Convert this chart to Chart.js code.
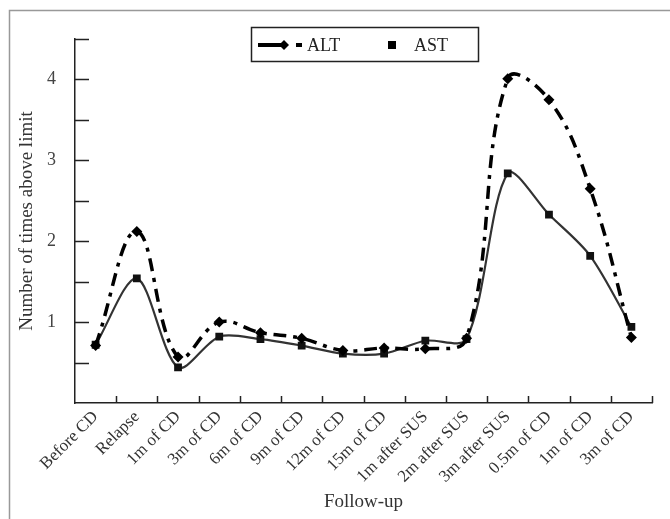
<!DOCTYPE html>
<html>
<head>
<meta charset="utf-8">
<script src="https://cdn.jsdelivr.net/npm/chart.js@4.4.0/dist/chart.umd.min.js"></script>
<style>
  body { margin: 0; background: #fff; }
  #wrap { width: 670px; height: 519px; }
</style>
</head>
<body>
<div id="wrap"><canvas id="chart" width="670" height="519"></canvas></div>
<script>
// data
const categories = ['Before CD', 'Relapse', '1m of CD', '3m of CD', '6m of CD', '9m of CD', '12m of CD',
    '15m of CD', '1m after SUS', '2m after SUS', '3m after SUS', '0.5m of CD', '1m of CD', '3m of CD'];
const altValues = [0.71, 2.12, 0.57, 1.0, 0.87, 0.8, 0.65, 0.68, 0.67, 0.8, 4.01, 3.75, 2.65, 0.81];
const astValues = [0.72, 1.54, 0.44, 0.82, 0.79, 0.71, 0.61, 0.61, 0.77, 0.79, 2.84, 2.33, 1.82, 0.94];
const yLabels = [1, 2, 3, 4];

const FONT = 'Liberation Serif';

// frame around the figure
const framePlugin = {
    id: 'frame',
    beforeDraw(chart) {
        const ctx = chart.ctx;
        ctx.save();
        ctx.strokeStyle = '#999';
        ctx.lineWidth = 1.5;
        ctx.strokeRect(9.5, 10.5, 720, 600);
        ctx.restore();
    }
};

// tick marks pointing into the plot
const innerTicks = {
    id: 'innerTicks',
    afterDatasetsDraw(chart) {
        const ctx = chart.ctx;
        const x = chart.scales.x;
        const y = chart.scales.y;
        ctx.save();
        ctx.strokeStyle = '#222';
        ctx.lineWidth = 1.5;
        ctx.beginPath();
        y.ticks.forEach(t => {
            if (t.value <= 0) return;
            const py = Math.round(y.getPixelForValue(t.value)) + 0.5;
            ctx.moveTo(y.right, py);
            ctx.lineTo(y.right + 14, py);
        });
        const step = x.getPixelForValue(1) - x.getPixelForValue(0);
        for (let i = 0; i < categories.length; i++) {
            const px = Math.round(x.getPixelForValue(i) + step / 2) + 0.5;
            ctx.moveTo(px, x.top);
            ctx.lineTo(px, x.top - 7);
        }
        ctx.stroke();
        ctx.restore();
    }
};

// boxed legend
const boxLegend = {
    id: 'boxLegend',
    afterDraw(chart) {
        const ctx = chart.ctx;
        ctx.save();
        ctx.fillStyle = '#fff';
        ctx.fillRect(252, 28, 227, 34);
        ctx.strokeStyle = '#222';
        ctx.lineWidth = 1.5;
        ctx.strokeRect(251.5, 27.5, 227, 34);
        const cy = 45;
        ctx.strokeStyle = '#000';
        ctx.lineWidth = 4;
        ctx.beginPath();
        ctx.moveTo(258, cy); ctx.lineTo(283, cy);
        ctx.moveTo(296, cy); ctx.lineTo(302, cy);
        ctx.stroke();
        ctx.fillStyle = '#000';
        ctx.beginPath();
        ctx.moveTo(284, cy - 5); ctx.lineTo(289, cy); ctx.lineTo(284, cy + 5); ctx.lineTo(279, cy);
        ctx.closePath();
        ctx.fill();
        ctx.fillRect(388, cy - 4, 8, 8);
        ctx.font = '18px "' + FONT + '"';
        ctx.textBaseline = 'middle';
        ctx.fillStyle = '#222';
        ctx.fillText('ALT', 307, cy + 1);
        ctx.fillText('AST', 414, cy + 1);
        ctx.restore();
    }
};

new Chart(document.getElementById('chart'), {
    type: 'line',
    data: {
        labels: categories,
        datasets: [{
            label: 'ALT',
            data: altValues,
            borderColor: '#000',
            borderWidth: 3.5,
            borderDash: [13, 7, 4, 7],
            tension: 0.4,
            pointStyle: 'rectRot',
            pointRadius: 5.5,
            pointBackgroundColor: '#000',
            pointBorderColor: '#000',
            pointBorderWidth: 0
        }, {
            label: 'AST',
            data: astValues,
            borderColor: '#333',
            borderWidth: 2.2,
            tension: 0.3,
            pointStyle: 'rect',
            pointRadius: 5.5,
            pointBackgroundColor: '#111',
            pointBorderColor: '#111',
            pointBorderWidth: 0
        }]
    },
    options: {
        responsive: false,
        animation: false,
        layout: { padding: { top: 39, right: 18, left: 0, bottom: 0 } },
        plugins: {
            legend: { display: false },
            tooltip: { enabled: false }
        },
        scales: {
            x: {
                offset: true,
                grid: { display: false, drawTicks: false },
                border: { display: true, color: '#222', width: 1.5 },
                ticks: {
                    maxRotation: 45,
                    minRotation: 45,
                    padding: 4,
                    color: '#333',
                    font: { family: FONT, size: 17 }
                },
                title: {
                    display: true,
                    text: 'Follow-up',
                    color: '#333',
                    font: { family: FONT, size: 19 },
                    padding: { top: 0, bottom: 6 }
                },
                afterFit(scale) { scale.height = 116; }
            },
            y: {
                min: 0,
                max: 4.5,
                grid: { display: false, drawTicks: false },
                border: { display: true, color: '#222', width: 1.5 },
                ticks: {
                    stepSize: 0.5,
                    padding: 19,
                    color: '#444',
                    font: { family: FONT, size: 18 },
                    callback: v => yLabels.includes(v) ? String(v) : ''
                },
                title: {
                    display: true,
                    text: 'Number of times above limit',
                    color: '#333',
                    font: { family: FONT, size: 19 },
                    padding: { top: 16, bottom: 0 }
                },
                afterFit(scale) { scale.width = 75; }
            }
        }
    },
    plugins: [framePlugin, innerTicks, boxLegend]
});
</script>
</body>
</html>
